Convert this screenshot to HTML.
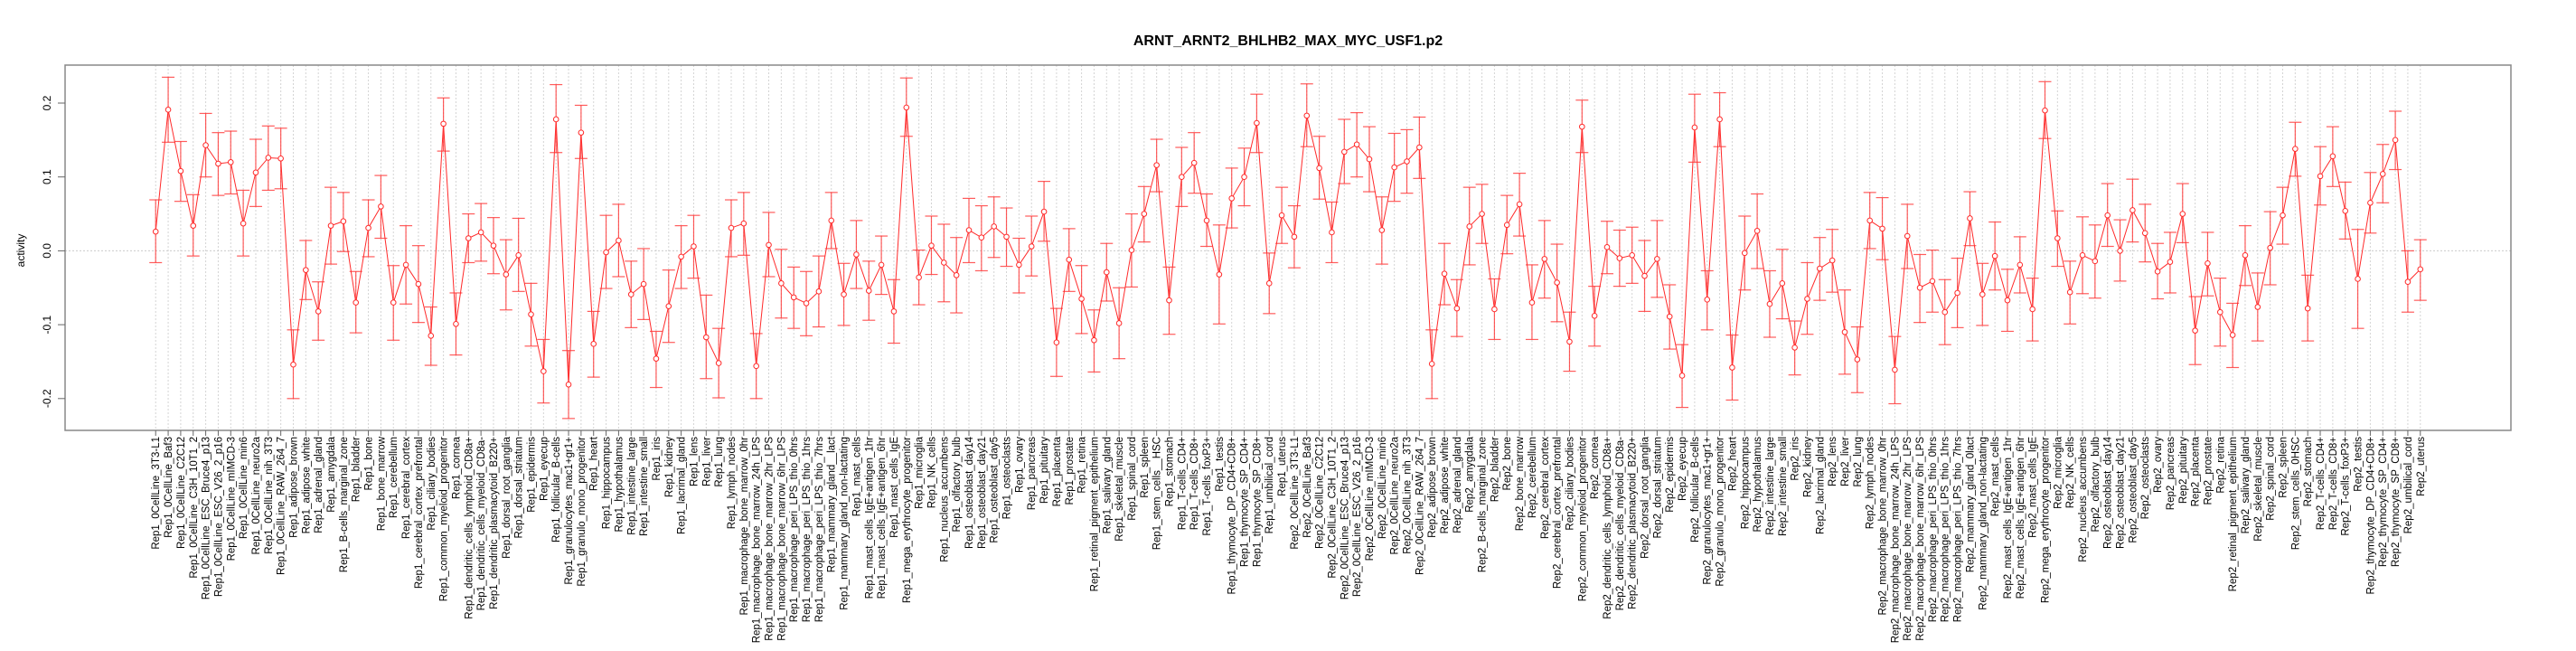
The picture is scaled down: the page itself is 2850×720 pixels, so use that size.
<!DOCTYPE html>
<html><head><meta charset="utf-8"><style>
html,body{margin:0;padding:0;background:#fff;}
svg{display:block;font-family:"Liberation Sans",sans-serif;}
</style></head><body>
<svg id="chart" width="2850" height="720" viewBox="0 0 2850 720" xmlns="http://www.w3.org/2000/svg">
<text x="1425" y="50" text-anchor="middle" font-size="16" font-weight="bold">ARNT_ARNT2_BHLHB2_MAX_MYC_USF1.p2</text>
<text transform="translate(27,277) rotate(-90)" text-anchor="middle" font-size="12">activity</text>
</svg>
<script>
const tissues = ["0CellLine_3T3-L1","0CellLine_Baf3","0CellLine_C2C12","0CellLine_C3H_10T1_2","0CellLine_ESC_Bruce4_p13","0CellLine_ESC_V26_2_p16","0CellLine_mIMCD-3","0CellLine_min6","0CellLine_neuro2a","0CellLine_nih_3T3","0CellLine_RAW_264_7","adipose_brown","adipose_white","adrenal_gland","amygdala","B-cells_marginal_zone","bladder","bone","bone_marrow","cerebellum","cerebral_cortex","cerebral_cortex_prefrontal","ciliary_bodies","common_myeloid_progenitor","cornea","dendritic_cells_lymphoid_CD8a+","dendritic_cells_myeloid_CD8a-","dendritic_plasmacytoid_B220+","dorsal_root_ganglia","dorsal_striatum","epidermis","eyecup","follicular_B-cells","granulocytes_mac1+gr1+","granulo_mono_progenitor","heart","hippocampus","hypothalamus","intestine_large","intestine_small","iris","kidney","lacrimal_gland","lens","liver","lung","lymph_nodes","macrophage_bone_marrow_0hr","macrophage_bone_marrow_24h_LPS","macrophage_bone_marrow_2hr_LPS","macrophage_bone_marrow_6hr_LPS","macrophage_peri_LPS_thio_0hrs","macrophage_peri_LPS_thio_1hrs","macrophage_peri_LPS_thio_7hrs","MAMLACT","mammary_gland_non-lactating","mast_cells","mast_cells_IgE+antigen_1hr","mast_cells_IgE+antigen_6hr","mast_cells_IgE","mega_erythrocyte_progenitor","microglia","NK_cells","nucleus_accumbens","olfactory_bulb","osteoblast_day14","osteoblast_day21","osteoblast_day5","osteoclasts","ovary","pancreas","pituitary","placenta","prostate","retina","retinal_pigment_epithelium","salivary_gland","skeletal_muscle","spinal_cord","spleen","STEMHSC","stomach","T-cells_CD4+","T-cells_CD8+","T-cells_foxP3+","testis","thymocyte_DP_CD4+CD8+","thymocyte_SP_CD4+","thymocyte_SP_CD8+","umbilical_cord","uterus"];
const categories = [];
["Rep1","Rep2"].forEach(r => tissues.forEach(t => {
  let n = t;
  if (t === "MAMLACT") n = r === "Rep1" ? "mammary_gland__lact" : "mammary_gland_0lact";
  if (t === "STEMHSC") n = r === "Rep1" ? "stem_cells__HSC" : "stem_cells_0HSC";
  categories.push(r + "_" + n);
}));
const meanValues = [0.026,0.191,0.108,0.034,0.143,0.118,0.12,0.037,0.106,0.126,0.125,-0.154,-0.026,-0.082,0.034,0.04,-0.07,0.031,0.06,-0.07,-0.019,-0.045,-0.115,0.172,-0.099,0.017,0.025,0.007,-0.032,-0.006,-0.086,-0.163,0.178,-0.181,0.16,-0.126,-0.002,0.014,-0.059,-0.045,-0.146,-0.075,-0.008,0.006,-0.117,-0.152,0.031,0.037,-0.156,0.008,-0.044,-0.063,-0.071,-0.055,0.041,-0.059,-0.005,-0.054,-0.019,-0.082,0.194,-0.036,0.007,-0.016,-0.033,0.028,0.018,0.033,0.019,-0.019,0.006,0.053,-0.124,-0.012,-0.065,-0.121,-0.029,-0.098,0.001,0.05,0.116,-0.067,0.1,0.119,0.041,-0.032,0.071,0.1,0.173,-0.044,0.048,
0.019,0.183,0.112,0.025,0.134,0.144,0.124,0.028,0.113,0.121,0.14,-0.153,-0.031,-0.078,0.033,0.05,-0.079,0.035,0.063,-0.07,-0.011,-0.043,-0.123,0.168,-0.088,0.005,-0.01,-0.006,-0.034,-0.011,-0.089,-0.169,0.167,-0.066,0.178,-0.158,-0.003,0.027,-0.072,-0.044,-0.131,-0.065,-0.024,-0.013,-0.11,-0.147,0.041,0.03,-0.161,0.02,-0.05,-0.041,-0.083,-0.057,0.044,-0.059,-0.007,-0.067,-0.019,-0.079,0.19,0.017,-0.056,-0.006,-0.014,0.048,0,0.055,0.024,-0.028,-0.015,0.05,-0.108,-0.017,-0.083,-0.114,-0.006,-0.076,0.004,0.048,0.138,-0.078,0.101,0.128,0.054,-0.038,0.065,0.104,0.15,-0.042,-0.025];
const upperValues = [0.069,0.235,0.148,0.076,0.186,0.16,0.162,0.082,0.151,0.169,0.166,-0.107,0.014,-0.042,0.086,0.079,-0.028,0.069,0.102,-0.02,0.034,0.007,-0.076,0.207,-0.057,0.05,0.064,0.045,0.015,0.044,-0.044,-0.12,0.225,-0.135,0.197,-0.082,0.048,0.063,-0.014,0.003,-0.109,-0.026,0.034,0.048,-0.06,-0.105,0.069,0.079,-0.112,0.052,0.002,-0.022,-0.028,-0.007,0.079,-0.017,0.041,-0.014,0.02,-0.039,0.234,0.001,0.047,0.036,0.018,0.071,0.061,0.073,0.058,0.017,0.047,0.094,-0.078,0.03,-0.02,-0.08,0.01,-0.05,0.05,0.087,0.151,-0.022,0.14,0.16,0.077,0.035,0.112,0.139,0.212,-0.003,0.086,
0.061,0.226,0.155,0.066,0.178,0.187,0.168,0.073,0.159,0.164,0.181,-0.107,0.01,-0.039,0.086,0.09,-0.038,0.075,0.105,-0.019,0.041,0.009,-0.083,0.204,-0.048,0.04,0.028,0.032,0.014,0.041,-0.046,-0.127,0.212,-0.027,0.214,-0.114,0.047,0.077,-0.027,0.002,-0.095,-0.016,0.018,0.029,-0.053,-0.103,0.079,0.072,-0.116,0.063,-0.005,0.001,-0.039,-0.01,0.08,-0.017,0.039,-0.025,0.019,-0.037,0.229,0.054,-0.014,0.046,0.035,0.091,0.042,0.097,0.063,0.01,0.025,0.091,-0.062,0.025,-0.037,-0.071,0.034,-0.03,0.053,0.086,0.174,-0.033,0.141,0.168,0.093,0.029,0.106,0.144,0.189,0,0.015];
const lowerValues = [-0.016,0.147,0.067,-0.007,0.1,0.075,0.077,-0.007,0.06,0.082,0.084,-0.2,-0.066,-0.121,-0.018,-0.001,-0.111,-0.008,0.017,-0.121,-0.072,-0.097,-0.155,0.135,-0.141,-0.016,-0.014,-0.031,-0.08,-0.055,-0.129,-0.206,0.133,-0.227,0.125,-0.171,-0.051,-0.035,-0.104,-0.093,-0.185,-0.124,-0.051,-0.037,-0.173,-0.199,-0.008,-0.006,-0.2,-0.035,-0.091,-0.105,-0.115,-0.103,0.003,-0.101,-0.051,-0.094,-0.059,-0.125,0.155,-0.073,-0.032,-0.069,-0.084,-0.016,-0.027,-0.009,-0.021,-0.057,-0.034,0.013,-0.17,-0.055,-0.112,-0.164,-0.068,-0.146,-0.049,0.012,0.08,-0.113,0.06,0.078,0.006,-0.099,0.031,0.061,0.133,-0.085,0.01,
-0.023,0.141,0.07,-0.016,0.091,0.1,0.08,-0.018,0.067,0.078,0.098,-0.2,-0.073,-0.116,-0.019,0.01,-0.12,-0.004,0.02,-0.12,-0.064,-0.096,-0.163,0.133,-0.129,-0.031,-0.048,-0.044,-0.082,-0.063,-0.133,-0.212,0.12,-0.107,0.141,-0.202,-0.053,-0.024,-0.117,-0.092,-0.168,-0.113,-0.067,-0.056,-0.167,-0.192,0.003,-0.012,-0.207,-0.024,-0.097,-0.083,-0.127,-0.104,0.007,-0.101,-0.053,-0.109,-0.057,-0.122,0.152,-0.021,-0.099,-0.058,-0.064,0.006,-0.041,0.012,-0.015,-0.065,-0.057,0.011,-0.154,-0.061,-0.129,-0.158,-0.047,-0.122,-0.046,0.009,0.101,-0.122,0.062,0.087,0.016,-0.105,0.024,0.065,0.11,-0.083,-0.067];
const yTicks = [-0.2,-0.1,0.0,0.1,0.2];
const yTickLabels = ["-0.2","-0.1","0.0","0.1","0.2"];

const NS = "http://www.w3.org/2000/svg";
const svg = document.getElementById("chart");
const L = 72, R = 2778, T = 72, B = 476;
const n = categories.length;
const pad = 0.04 * (n - 1);
const xScale = i => L + (i + pad) / ((n - 1) + 2 * pad) * (R - L);
const yScale = v => 277.4 - v * 817;
function mk(tag, attrs) {
  const e = document.createElementNS(NS, tag);
  for (const k in attrs) e.setAttribute(k, attrs[k]);
  return e;
}
const grid = mk("g", {});


svg.appendChild(grid);
categories.forEach((c, i) => {
  const gl = mk("line", {x1: xScale(i), x2: xScale(i), y1: T, y2: B, stroke: "#d4d4d4", "stroke-width": 1, "stroke-dasharray": "2,2"});
  
  
  grid.appendChild(gl);
});
const zl = mk("line", {x1: L, x2: R, y1: yScale(0), y2: yScale(0), stroke: "#cccccc", "stroke-width": 1, "stroke-dasharray": "2,2"});


svg.appendChild(zl);
const box = mk("rect", {x: L, y: T, width: R - L, height: B - T, fill: "none", stroke: "#888", "stroke-width": 1.5});


svg.appendChild(box);
yTicks.forEach((v, k) => {
  const tk = mk("line", {x1: 64, x2: L, y1: yScale(v), y2: yScale(v), stroke: "#666", "stroke-width": 1});
  
  
  svg.appendChild(tk);
  const tl = mk("text", {transform: "translate(56," + yScale(v) + ") rotate(-90)", "text-anchor": "middle", "font-size": 12});
  
  
  tl.textContent = yTickLabels[k];
  svg.appendChild(tl);
});
categories.forEach((c, i) => {
  const x = xScale(i);
  const tk = mk("line", {x1: x, x2: x, y1: B, y2: B + 6, stroke: "#666", "stroke-width": 1});
  
  
  svg.appendChild(tk);
  const tl = mk("text", {transform: "translate(" + (x + 4) + "," + (B + 7) + ") rotate(-90)", "text-anchor": "end", "font-size": 11.5});
  
  
  tl.textContent = c;
  svg.appendChild(tl);
});
const pts = categories.map((c, i) => xScale(i) + "," + yScale(meanValues[i])).join(" ");
const line = mk("polyline", {points: pts, fill: "none", stroke: "#ff2a2a", "stroke-width": 1});


svg.appendChild(line);
categories.forEach((c, i) => {
  const x = xScale(i), yu = yScale(upperValues[i]), yl = yScale(lowerValues[i]);
  const g = mk("g", {stroke: "#ff3333", "stroke-width": 1.2, "stroke-opacity": 0.8});
  
  
  g.appendChild(mk("line", {x1: x, x2: x, y1: yu, y2: yl}));
  g.appendChild(mk("line", {x1: x - 7, x2: x + 7, y1: yu, y2: yu}));
  g.appendChild(mk("line", {x1: x - 7, x2: x + 7, y1: yl, y2: yl}));
  svg.appendChild(g);
  const pt = mk("circle", {cx: x, cy: yScale(meanValues[i]), r: 2.8, fill: "#fff", stroke: "#ff2a2a", "stroke-width": 1});
  
  
  svg.appendChild(pt);
});
</script>
</body></html>
